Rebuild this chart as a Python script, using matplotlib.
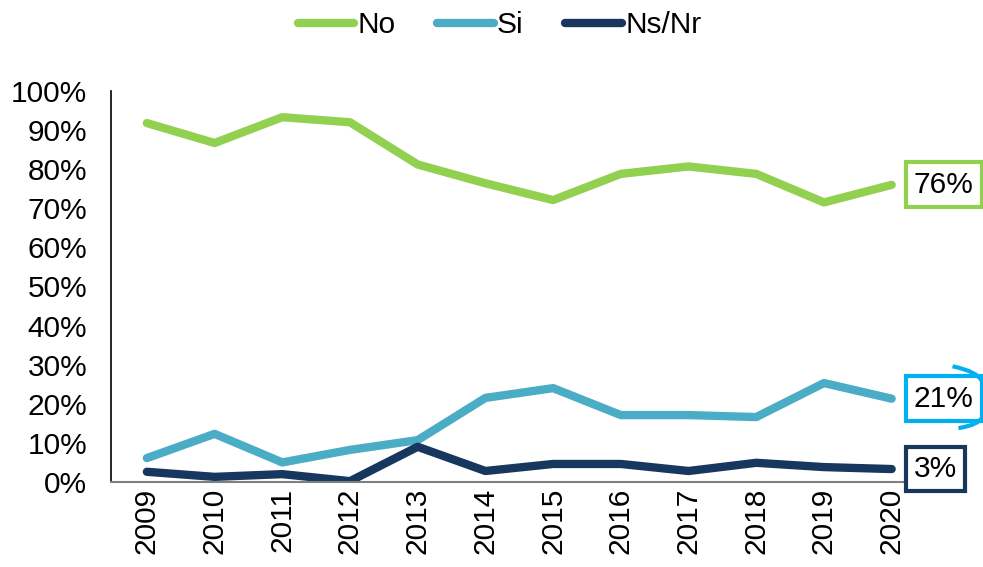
import matplotlib.pyplot as plt
from matplotlib.path import Path
from matplotlib.patches import PathPatch

plt.rcParams['font.family'] = ['Liberation Sans', 'DejaVu Sans']

years = ['2009', '2010', '2011', '2012', '2013', '2014', '2015', '2016', '2017', '2018', '2019', '2020']
no_vals = [91.8, 86.7, 93.3, 92.0, 81.2, 76.4, 72.1, 78.8, 80.7, 78.8, 71.5, 76.0]
si_vals = [6.1, 12.3, 5.0, 8.2, 10.7, 21.5, 24.0, 17.1, 17.1, 16.6, 25.3, 21.3]
nsnr_vals = [2.6, 1.3, 2.0, 0.2, 9.0, 2.8, 4.6, 4.6, 2.8, 4.9, 3.8, 3.3]

series = [
    ('No', no_vals, '#92D050', '#92D050'),
    ('Si', si_vals, '#4BACC6', '#00B0F0'),
    ('Ns/Nr', nsnr_vals, '#17375E', '#17375E'),
]

FS = 21.5

fig = plt.figure(figsize=(9.83, 5.67), dpi=100)
ax = fig.add_axes([0.1129, 0.150, 0.830, 0.6895])

x = list(range(len(years)))
for name, vals, col, box_col in series:
    ax.plot(x, vals, color=col, lw=6, label=name, solid_capstyle='round', solid_joinstyle='round')
    ax.annotate('%d%%' % round(vals[-1]), xy=(x[-1], vals[-1]), xytext=(16, 0),
                textcoords='offset points', ha='left', va='center', fontsize=FS,
                bbox=dict(boxstyle='square,pad=0.28', fc='white', ec=box_col, lw=3))

ax.set_xlim(-0.53, 11.52)
ax.set_ylim(0, 100)
ax.set_yticks(range(0, 101, 10))
ax.set_yticklabels(['%d%%' % v for v in range(0, 101, 10)], fontsize=FS)
ax.set_xticks(x)
ax.set_xticklabels(years, rotation=90, fontsize=FS)
ax.tick_params(axis='y', length=0, pad=17)
ax.tick_params(axis='x', length=0, pad=4)

for s in ['top', 'right']:
    ax.spines[s].set_visible(False)
ax.spines['left'].set_color('black')
ax.spines['left'].set_linewidth(1.2)
ax.spines['bottom'].set_color('#808080')
ax.spines['bottom'].set_linewidth(1.5)

# curved outline overflowing the corner of the 21% box
arc = Path([(0.969, 0.354), (0.995, 0.345), (1.0, 0.325),
            (0.975, 0.245), (0.995, 0.250), (1.0, 0.265)],
           [Path.MOVETO, Path.CURVE3, Path.CURVE3,
            Path.MOVETO, Path.CURVE3, Path.CURVE3])
fig.patches.append(PathPatch(arc, transform=fig.transFigure, fill=False,
                             ec='#00B0F0', lw=3, figure=fig))

fig.legend(loc='upper center', bbox_to_anchor=(0.508, 1.028), ncol=3, frameon=False,
           fontsize=FS, handlelength=1.9, handletextpad=0.1, columnspacing=1.4)

fig.savefig('out.png', dpi=100)
